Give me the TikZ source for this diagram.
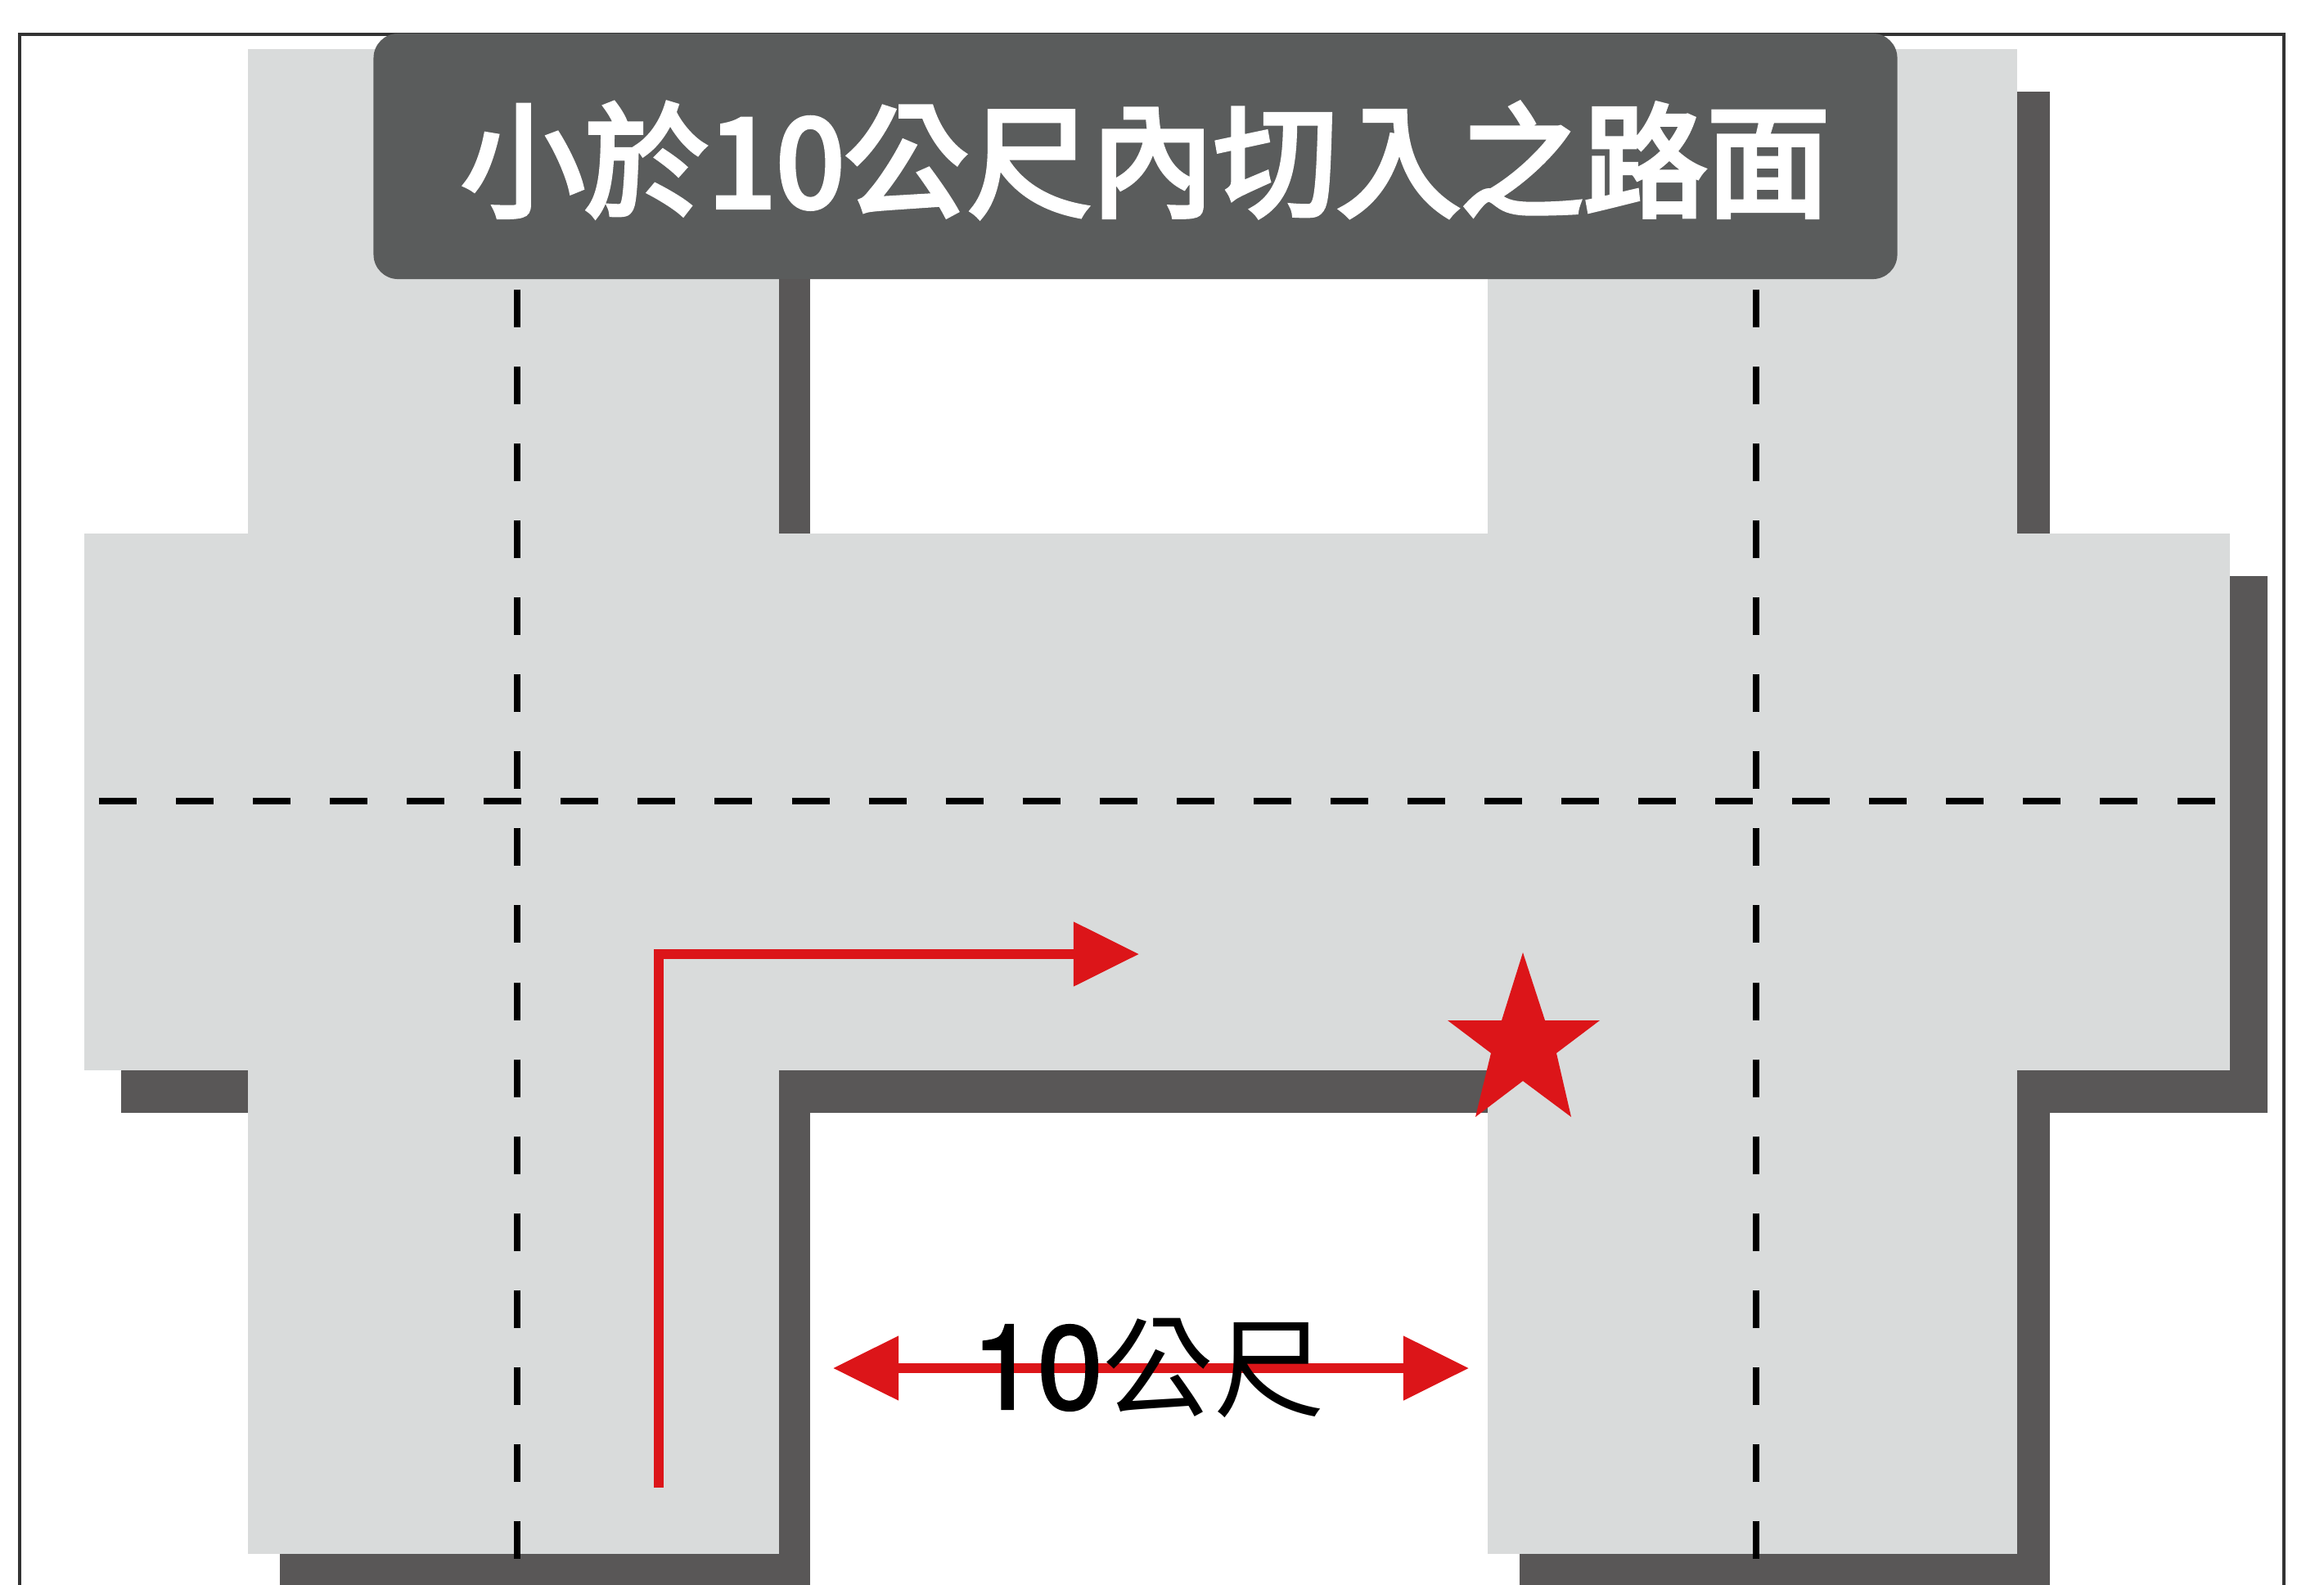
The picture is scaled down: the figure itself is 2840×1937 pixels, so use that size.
\documentclass[tikz,border=0pt]{standalone}
\usepackage{fontspec}
\usepackage{tikz}
\usetikzlibrary{arrows.meta}
\newfontfamily\digitfont[FakeBold=2]{TeX Gyre Heros}
\newfontfamily\cjkfont{Noto Sans CJK TC}
\newfontfamily\cjkthick[FakeBold=4]{Noto Sans CJK TC}
\definecolor{roadgray}{HTML}{D9DBDB}
\definecolor{shadowgray}{HTML}{595757}
\definecolor{boxgray}{HTML}{5A5C5C}
\definecolor{markred}{HTML}{DC1519}
\tikzset{
  lane/.style={black,line width=0.08cm,dash pattern=on 0.46cm off 0.48cm},
  route/.style={markred,line width=0.115cm,-{Triangle[length=0.8cm,width=0.76cm]}},
}

\begin{document}
\begin{tikzpicture}[x=0.01cm,y=-0.01cm]
    \useasboundingbox (0,0) rectangle (2840,1937);
    \fill[white] (0,0) rectangle (2840,1937);
    \draw[black!80,line width=0.045cm] (24,1937) -- (24,42) -- (2791,42) -- (2791,1937);

    % shadows first, the road goes on top
    \fill[shadowgray] (342,112) rectangle (990,1937);
    \fill[shadowgray] (1857,112) rectangle (2505,1937);
    \fill[shadowgray] (148,704) rectangle (2771,1360);
    \fill[roadgray] (303,60) rectangle (952,1899);
    \fill[roadgray] (1818,60) rectangle (2465,1899);
    \fill[roadgray] (103,652) rectangle (2725,1308);

    \coordinate (laneL) at (632,354);
    \coordinate (laneLend) at (632,1906);
    \coordinate (laneR) at (2146,354);
    \coordinate (laneRend) at (2146,1906);
    \coordinate (laneH) at (121,979);
    \coordinate (laneHend) at (2710,979);
    \draw[lane] (laneL) -- (laneLend);
    \draw[lane] (laneR) -- (laneRend);
    \draw[lane] (laneH) -- (laneHend);

    \node (title) [fill=boxgray,rounded corners=0.3cm,minimum width=18.61cm,minimum height=3cm,
    inner sep=0pt,text=white,text height=1.24cm,text depth=0cm,
    font=\cjkthick\fontsize{42.8}{42.8}\selectfont] at (1387.5,191) {\hspace*{0.25cm}小於10公尺內切入之路面};

    \coordinate (turnS) at (805,1818);
    \coordinate (turnC) at (805,1166);
    \coordinate (turnE) at (1392,1166);
    \draw[route] (turnS) -- (turnC) -- (turnE);

    \fill[markred] (1861,1164) -- (1888,1247) -- (1955,1247) -- (1902,1287) -- (1920,1365)
    -- (1861,1321) -- (1803,1365) -- (1822,1287) -- (1769,1247) -- (1835,1247) -- cycle;

    \coordinate (spanL) at (1018,1672);
    \coordinate (spanR) at (1795,1672);
    \draw[route,{Triangle[length=0.8cm,width=0.76cm]}-{Triangle[length=0.8cm,width=0.76cm]}] (spanL) -- (spanR);
    \node (span) [inner sep=0pt,font=\digitfont\fontsize{41}{41}\selectfont] at (1403,1672) {10{\cjkfont\fontsize{38.5}{38.5}\selectfont 公尺}};
\end{tikzpicture}
\end{document}
